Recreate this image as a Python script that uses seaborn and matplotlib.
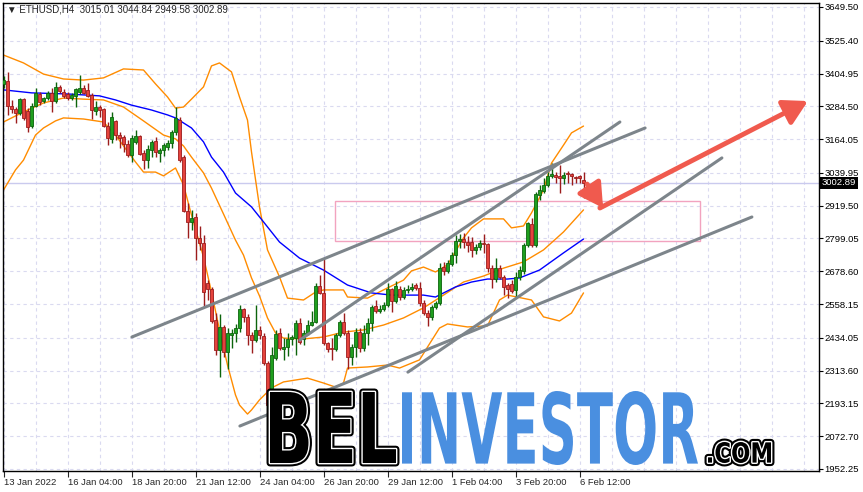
import matplotlib
matplotlib.use('Agg')
import matplotlib.pyplot as plt
import matplotlib.patheffects as pe
from matplotlib.font_manager import FontProperties
from matplotlib.patches import PathPatch, Rectangle
from matplotlib.textpath import TextPath
from matplotlib.transforms import Affine2D, IdentityTransform, blended_transform_factory
import numpy as np
import pandas as pd
import seaborn as sns

# ETHUSD H4 candles, 13 Jan 2022 12:00 -> 6 Feb 2022 16:00
opens = [3367, 3378, 3286, 3275, 3260, 3311, 3267, 3212, 3286, 3330,
         3304, 3315, 3334, 3304, 3356, 3337, 3330, 3315, 3322, 3337,
         3352, 3345, 3326, 3267, 3282, 3275, 3212, 3165, 3231, 3179,
         3172, 3146, 3106, 3154, 3176, 3113, 3087, 3124, 3157, 3113,
         3124, 3135, 3150, 3190, 3234, 3098, 2900, 2860, 2878, 2801,
         2782, 2636, 2613, 2500, 2389, 2474, 2382, 2444, 2452, 2470,
         2540, 2511, 2444, 2426, 2463, 2441, 2342, 2187, 2360, 2452,
         2393, 2400, 2430, 2433, 2489, 2430, 2452, 2481, 2492, 2624,
         2599, 2415, 2397, 2393, 2444, 2492, 2452, 2364, 2400, 2455,
         2397, 2452, 2489, 2551, 2533, 2540, 2555, 2613, 2569, 2613,
         2584, 2610, 2613, 2628, 2617, 2562, 2525, 2511, 2547, 2562,
         2694, 2680, 2705, 2738, 2790, 2797, 2786, 2786, 2757, 2768,
         2782, 2779, 2691, 2650, 2691, 2658, 2628, 2632, 2610, 2658,
         2680, 2775, 2852, 2775, 2959, 2973, 2996, 3029, 3032, 3029,
         3021, 3040, 3036, 3025, 3029, 3015.01]
highs = [3396, 3411, 3308, 3282, 3315, 3315, 3278, 3297, 3352, 3337,
         3319, 3341, 3352, 3374, 3363, 3348, 3337, 3334, 3352, 3400,
         3363, 3370, 3334, 3304, 3289, 3278, 3227, 3264, 3234, 3190,
         3179, 3161, 3179, 3198, 3179, 3124, 3142, 3161, 3172, 3131,
         3150, 3161, 3198, 3282, 3245, 3106, 2929, 2904, 2893, 2845,
         2812, 2647, 2621, 2525, 2522, 2481, 2470, 2466, 2485, 2555,
         2544, 2522, 2455, 2555, 2478, 2452, 2349, 2400, 2463, 2470,
         2433, 2452, 2444, 2500, 2507, 2463, 2500, 2533, 2636, 2665,
         2724, 2419, 2433, 2452, 2500, 2525, 2463, 2411, 2470, 2470,
         2481, 2507, 2555, 2573, 2555, 2566, 2636, 2617, 2643, 2624,
         2621, 2628, 2636, 2636, 2639, 2573, 2536, 2555, 2569, 2709,
         2713, 2720, 2749, 2812, 2816, 2819, 2808, 2805, 2779, 2793,
         2816, 2782, 2702, 2727, 2702, 2665, 2636, 2647, 2676, 2698,
         2782, 2860, 2874, 2970, 2996, 3021, 3043, 3076, 3043, 3069,
         3043, 3047, 3040, 3029, 3032, 3044.84]
lows = [3352, 3253, 3260, 3223, 3253, 3234, 3190, 3205, 3282, 3289,
        3297, 3308, 3264, 3297, 3334, 3315, 3308, 3308, 3282, 3330,
        3330, 3319, 3238, 3253, 3245, 3209, 3142, 3150, 3161, 3131,
        3117, 3098, 3080, 3146, 3106, 3054, 3058, 3098, 3098, 3080,
        3102, 3124, 3131, 3179, 3080, 2896, 2801, 2830, 2720, 2757,
        2547, 2573, 2489, 2371, 2290, 2364, 2320, 2397, 2419, 2455,
        2492, 2408, 2378, 2419, 2430, 2334, 2180, 2162, 2353, 2389,
        2353, 2367, 2408, 2371, 2411, 2408, 2444, 2478, 2489, 2595,
        2408, 2382, 2353, 2386, 2437, 2444, 2320, 2334, 2364, 2382,
        2386, 2408, 2459, 2525, 2525, 2533, 2547, 2529, 2562, 2573,
        2577, 2599, 2606, 2610, 2551, 2518, 2478, 2500, 2540, 2555,
        2665, 2672, 2698, 2709, 2764, 2764, 2749, 2731, 2742, 2757,
        2746, 2676, 2617, 2639, 2650, 2591, 2580, 2599, 2580, 2647,
        2669, 2768, 2768, 2768, 2940, 2966, 2988, 3021, 3003, 2966,
        2999, 3003, 2996, 3003, 3003, 2949.58]
closes = [3381, 3286, 3275, 3260, 3311, 3242, 3209, 3286, 3334, 3300,
          3315, 3334, 3304, 3356, 3341, 3322, 3315, 3326, 3348, 3352,
          3334, 3322, 3271, 3282, 3271, 3212, 3168, 3245, 3179, 3168,
          3146, 3106, 3168, 3176, 3109, 3087, 3128, 3154, 3117, 3124,
          3142, 3150, 3190, 3242, 3087, 2900, 2860, 2874, 2801, 2782,
          2602, 2613, 2496, 2389, 2474, 2382, 2452, 2452, 2470, 2540,
          2511, 2444, 2426, 2463, 2444, 2342, 2187, 2371, 2448, 2397,
          2400, 2430, 2437, 2489, 2419, 2452, 2481, 2492, 2624, 2599,
          2415, 2393, 2393, 2444, 2492, 2452, 2364, 2400, 2455, 2397,
          2452, 2489, 2547, 2533, 2540, 2555, 2613, 2569, 2624, 2584,
          2610, 2613, 2621, 2617, 2562, 2525, 2511, 2547, 2562, 2691,
          2680, 2709, 2738, 2790, 2797, 2786, 2775, 2757, 2768, 2782,
          2779, 2691, 2650, 2691, 2658, 2621, 2613, 2606, 2658, 2683,
          2775, 2856, 2775, 2962, 2977, 2996, 3029, 3036, 3025, 3021,
          3032, 3036, 3029, 3021, 3021, 3002.89]

# Bollinger bands and moving average, read at selected bars
upper_bars = [0, 5, 10, 15, 20, 25, 30, 35, 38, 41, 43, 45, 47, 50, 52, 54, 57, 59, 61, 62,
              64, 66, 69, 71, 75, 78, 80, 85, 86, 91, 95, 100, 102, 105, 108, 111, 115, 117,
              120, 125, 127, 130, 132, 135, 137, 140, 142, 145]
bb_upper = [3473, 3444, 3403, 3385, 3381, 3389, 3422, 3418, 3367, 3319, 3278, 3282, 3311,
            3356, 3433, 3444, 3411, 3319, 3234, 3117, 2915, 2757, 2658, 2580, 2573, 2602,
            2610, 2610, 2584, 2580, 2610, 2646, 2680, 2694, 2676, 2702, 2801, 2838, 2871,
            2871, 2838, 2845, 2893, 2977, 3076, 3142, 3187, 3212]
mid_bars = [0, 5, 10, 15, 20, 25, 30, 35, 40, 43, 45, 47, 50, 52, 55, 58, 60, 62, 64, 66,
            68, 70, 75, 80, 85, 90, 95, 100, 105, 110, 115, 120, 125, 130, 135, 140, 145]
bb_mid = [3227, 3264, 3297, 3315, 3311, 3308, 3282, 3231, 3179, 3165, 3139, 3098, 3040,
          2984, 2889, 2793, 2738, 2654, 2588, 2507, 2452, 2433, 2430, 2437, 2455, 2463,
          2481, 2507, 2544, 2591, 2639, 2661, 2690, 2713, 2757, 2823, 2904]
lower_bars = [0, 3, 5, 8, 10, 13, 15, 20, 25, 28, 30, 33, 35, 38, 40, 43, 45, 47, 50, 52,
              54, 56, 58, 59, 61, 62, 64, 67, 70, 76, 80, 83, 85, 86, 91, 96, 99, 104, 106,
              109, 111, 116, 121, 124, 126, 132, 135, 139, 142, 145]
bb_lower = [2977, 3051, 3087, 3179, 3205, 3231, 3242, 3238, 3227, 3179, 3139, 3080, 3043,
            3043, 3029, 3058, 2996, 2885, 2731, 2602, 2463, 2334, 2224, 2187, 2154, 2169,
            2206, 2250, 2272, 2286, 2268, 2253, 2268, 2323, 2327, 2334, 2323, 2353, 2400,
            2470, 2485, 2474, 2478, 2573, 2591, 2573, 2511, 2496, 2525, 2599]
ma_bars = [0, 7, 16, 24, 28, 32, 37, 41, 43, 47, 50, 52, 55, 58, 62, 65, 69, 74, 80, 86,
           92, 97, 105, 108, 113, 117, 121, 126, 129, 134, 140, 145]
ma_blue = [3345, 3334, 3330, 3323, 3308, 3289, 3271, 3253, 3242, 3205, 3154, 3098, 3043,
           2966, 2915, 2860, 2786, 2727, 2683, 2628, 2599, 2591, 2591, 2584, 2621, 2639,
           2650, 2650, 2654, 2683, 2746, 2797]

time_ticks = [0, 16, 32, 48, 64, 80, 96, 112, 128, 144]
time_labels = ['13 Jan 2022', '16 Jan 04:00', '18 Jan 20:00', '21 Jan 12:00',
               '24 Jan 04:00', '26 Jan 20:00', '29 Jan 12:00', '1 Feb 04:00',
               '3 Feb 20:00', '6 Feb 12:00']
price_ticks = [3649.50, 3525.40, 3404.95, 3284.50, 3164.05, 3039.95, 2919.50,
               2799.05, 2678.60, 2558.15, 2434.05, 2313.60, 2193.15, 2072.70, 1952.25]

# drawn objects: (bar0, price0, bar1, price1)
trend_lines = [(32.1, 2437, 160.4, 3205),
               (74.1, 2426, 154.1, 3227),
               (59.1, 2110, 187.1, 2878),
               (101.1, 2308, 179.6, 3095)]
zone = (82.9, 174.1, 2790, 2937)
arrows = [(145.9, 2999, 149.9, 2911), (149.1, 2911, 201.1, 3304)]

sns.set_style('white')
plt.rcParams['font.family'] = ['Liberation Sans', 'DejaVu Sans']

W, H = 863, 492
fig = plt.figure(figsize=(W / 100, H / 100), dpi=100)
ax = fig.add_axes([2.5 / W, (H - 470.5) / H, 816 / W, 468 / H])

df = pd.DataFrame(dict(open=opens, high=highs, low=lows, close=closes))
df['bar'] = np.arange(len(df))
up = df['close'] >= df['open']

# wicks and bodies
for mask, fill, edge in [(up, '#1f9f1f', '#0c640c'), (~up, '#e5433d', '#9c1c1c')]:
    d = df[mask]
    ax.vlines(d['bar'], d['low'], d['high'], color=edge, lw=1, zorder=3)
    body = np.maximum((d['close'] - d['open']).abs(), 4)
    ax.bar(d['bar'], body, bottom=np.minimum(d['open'], d['close']), width=0.72,
           color=fill, edgecolor=edge, linewidth=0.6, zorder=4)

# bollinger bands + moving average
for bars, series in [(upper_bars, bb_upper), (mid_bars, bb_mid), (lower_bars, bb_lower)]:
    sns.lineplot(x=bars, y=series, ax=ax, color='#ff8c00', lw=1, zorder=2)
sns.lineplot(x=ma_bars, y=ma_blue, ax=ax, color='#0000ff', lw=1, zorder=2)

ax.axhline(closes[-1], color='#cacaee', lw=1, zorder=1)
ax.add_patch(Rectangle((zone[0], zone[2]), zone[1] - zone[0], zone[3] - zone[2],
                       fill=False, ec='#f2a3bf', lw=1, zorder=1))

for b0, p0, b1, p1 in trend_lines:
    ax.plot([b0, b1], [p0, p1], color='#7d858b', lw=2.2, solid_capstyle='round', zorder=5)

for b0, p0, b1, p1 in arrows:
    ax.annotate('', xy=(b1, p1), xytext=(b0, p0), zorder=6,
                arrowprops=dict(arrowstyle='-|>,head_length=0.8,head_width=0.45',
                                color='#f05a4e', lw=3.5, shrinkA=0, shrinkB=0,
                                mutation_scale=18))

ax.set_xlim(-0.25, 203.75)
ax.set_ylim(1946.6, 3666.0)

ax.set_xticks(time_ticks)
ax.set_xticklabels(time_labels)
ax.set_xticks([b for b in range(8, 204, 8) if b not in time_ticks], minor=True)
ax.set_yticks(price_ticks)
ax.set_yticklabels([f'{p:.2f}' for p in price_ticks])
ax.yaxis.tick_right()
ax.tick_params(axis='y', length=3, width=0.8, pad=1.5, labelsize=6.8, colors='black',
               direction='out', right=True, left=False)
ax.tick_params(axis='x', which='major', length=4, width=0.8, pad=1.5, labelsize=6.8,
               direction='out', bottom=True)
ax.tick_params(axis='x', which='minor', length=0)
for lbl in ax.get_xticklabels():
    lbl.set_horizontalalignment('left')

ax.grid(True, which='both', color='#dadaf0', ls=(0, (3, 3)), lw=0.8)
ax.set_axisbelow(True)
for s in ax.spines.values():
    s.set_visible(True)
    s.set_color('black')
    s.set_linewidth(1)

# current price tag
ax.text(1.004, closes[-1], f'{closes[-1]:.2f}', color='white', fontsize=6.8,
        va='center', ha='left', transform=blended_transform_factory(ax.transAxes, ax.transData),
        bbox=dict(boxstyle='square,pad=0.15', fc='black', ec='none'), clip_on=False)

fig.text(7 / W, 1 - 10 / H, '\u25bc ETHUSD,H4  3015.01 3044.84 2949.58 3002.89',
         fontsize=7, va='center', ha='left', family=['Liberation Sans', 'DejaVu Sans'])


# watermark, words stretched into their boxes (pixels, top-left origin)
def word(txt, box, fc, effects):
    x0, y0, x1, y1 = box
    tp = TextPath((0, 0), txt, size=100, prop=FontProperties(family='DejaVu Sans', weight='bold'))
    ext = tp.get_extents()
    tr = (Affine2D().translate(-ext.x0, -ext.y0)
          .scale((x1 - x0) / ext.width, (y1 - y0) / ext.height)
          .translate(x0, H - y1))
    patch = PathPatch(tr.transform_path(tp), fc=fc, ec='none',
                      transform=IdentityTransform(), zorder=20)
    patch.set_path_effects(effects)
    fig.add_artist(patch)


inline = [pe.Stroke(linewidth=5, foreground='black', joinstyle='round'),
          pe.Stroke(linewidth=2, foreground='white', joinstyle='round'), pe.Normal()]
word('BEL', (270, 392, 396, 463), 'black', inline)
word('INVESTOR', (402, 391, 698, 465), '#4a8fe0', [pe.Normal()])
word('.COM', (708, 442, 771, 463), 'black', inline)

fig.savefig('out.png', dpi=100)
